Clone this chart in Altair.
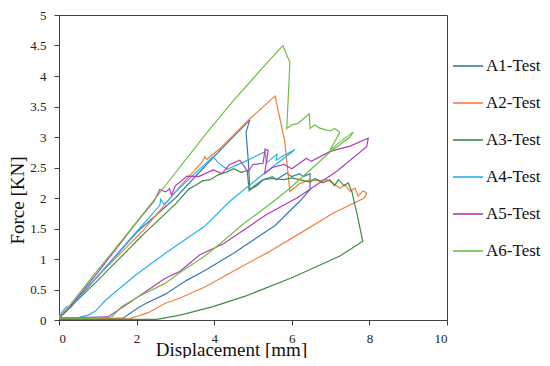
import altair as alt
import pandas as pd

series_names = ["A1-Test", "A2-Test", "A3-Test", "A4-Test", "A5-Test", "A6-Test"]
series_colors = ["#3a7ab0", "#f0803c", "#3f8c42", "#2bb2e8", "#b43cb4", "#6fbf46"]

x_ticks = [0, 2, 4, 6, 8, 10]
y_ticks = [0, 0.5, 1, 1.5, 2, 2.5, 3, 3.5, 4, 4.5, 5]

A1_x = [0, 0.15, 1.0, 2.04, 3.0, 3.76, 4.3, 4.92, 4.82, 4.88, 4.92, 5.1, 5.26, 5.5, 5.6, 5.87, 6.0, 6.2, 6.3, 6.47,
        6.47, 6.21, 5.57, 4.49, 3.76, 3.29, 2.73, 2.26, 2.04, 1.65, 1.0, 0]
A1_y = [0.03, 0.12, 0.72, 1.46, 2.0, 2.52, 2.88, 3.28, 3.08, 2.6, 2.14, 2.2, 2.3, 2.35, 2.3, 2.41, 2.35, 2.4, 2.35, 2.4,
        2.14, 1.95, 1.55, 1.09, 0.81, 0.65, 0.42, 0.28, 0.2, 0.03, 0.02, 0.02]

A2_x = [0, 0.2, 1.0, 2.16, 3.16, 3.7, 3.76, 3.8, 4.15, 4.92, 5.57, 5.82, 5.95, 6.1, 6.21, 6.47, 6.7, 6.9, 7.07, 7.24,
        7.37, 7.5, 7.63, 7.71, 7.84, 7.93, 7.87, 7.06, 6.21, 5.36, 4.49, 3.76, 3.12, 2.73, 2.3, 1.96, 1.8, 0]
A2_y = [0.03, 0.15, 0.72, 1.46, 2.22, 2.6, 2.68, 2.63, 2.81, 3.3, 3.67, 2.92, 2.11, 2.18, 2.24, 2.3, 2.28, 2.3, 2.24, 2.16,
        2.22, 2.11, 2.16, 2.03, 2.12, 2.08, 2.0, 1.75, 1.42, 1.1, 0.8, 0.54, 0.36, 0.27, 0.12, 0.05, 0.02, 0.02]

A3_x = [0, 1.0, 2.2, 3.0, 3.35, 3.5, 3.7, 3.9, 4.1, 4.3, 4.5, 4.7, 4.85, 4.9, 5.0, 5.26, 5.5, 5.8, 6.0, 6.2,
        6.47, 6.6, 6.8, 6.98, 7.1, 7.2, 7.35, 7.45, 7.55, 7.68, 7.83, 7.24, 6.03, 4.84, 3.97, 3.12, 2.52, 0]
A3_y = [0.03, 0.65, 1.42, 1.9, 2.15, 2.2, 2.28, 2.3, 2.38, 2.42, 2.48, 2.42, 2.45, 2.12, 2.18, 2.3, 2.32, 2.3, 2.33, 2.3,
        2.26, 2.32, 2.25, 2.3, 2.2, 2.3, 2.2, 2.25, 2.1, 1.74, 1.29, 1.05, 0.7, 0.4, 0.22, 0.08, 0.01, 0.01]

A4_x = [0, 0.1, 0.2, 0.3, 0.5, 1.0, 2.0, 2.6, 2.62, 2.7, 2.8, 3.0, 3.5, 3.97, 4.1, 4.33, 4.8, 5.31, 5.35, 5.62,
        5.6, 5.8, 6.08, 5.26, 4.41, 3.76, 2.73, 1.96, 1.19, 0.95, 0.75, 0.5, 0]
A4_y = [0.05, 0.15, 0.22, 0.2, 0.35, 0.72, 1.45, 1.88, 1.98, 1.9, 1.95, 2.1, 2.4, 2.68, 2.58, 2.47, 2.6, 2.76, 2.58, 2.72,
        2.62, 2.7, 2.79, 2.39, 1.95, 1.54, 1.09, 0.73, 0.32, 0.15, 0.08, 0.04, 0.04]

A5_x = [0, 0.2, 1.0, 2.0, 2.45, 2.6, 2.75, 2.85, 2.9, 3.0, 3.3, 3.6, 3.97, 4.2, 4.4, 4.66, 4.87, 5.0, 5.26, 5.31,
        5.39, 5.3, 5.5, 5.8, 6.0, 6.38, 6.5, 6.98, 7.2, 7.5, 7.97, 7.93, 7.16, 6.98, 6.13, 5.35, 4.24, 3.63, 3.12, 2.73,
        2.22, 1.8, 1.26, 0]
A5_y = [0.05, 0.15, 0.78, 1.6, 1.95, 2.14, 2.1, 2.15, 2.05, 2.2, 2.36, 2.35, 2.46, 2.4, 2.55, 2.62, 2.43, 2.55, 2.57, 2.8,
        2.78, 2.4, 2.5, 2.55, 2.48, 2.65, 2.6, 2.76, 2.8, 2.85, 2.98, 2.84, 2.44, 2.36, 2.0, 1.73, 1.25, 1.07, 0.8, 0.68,
        0.46, 0.28, 0.05, 0.03]

A6_x = [0, 0.2, 1.0, 1.87, 2.8, 3.76, 4.5, 5.2, 5.77, 5.95, 5.92, 5.87, 6.0, 6.15, 6.3, 6.45, 6.47, 6.6, 6.7, 6.85,
        7.0, 7.1, 7.24, 6.98, 7.2, 7.58, 7.5, 6.98, 5.95, 5.5, 4.74, 4.15, 3.76, 3.12, 2.73, 2.04, 1.62, 1.36, 1.0, 0]
A6_y = [0.05, 0.18, 0.82, 1.5, 2.25, 3.03, 3.6, 4.1, 4.5, 4.22, 3.8, 3.14, 3.2, 3.22, 3.3, 3.38, 3.14, 3.2, 3.15, 3.12,
        3.1, 3.14, 3.08, 2.78, 2.9, 3.08, 3.0, 2.75, 2.16, 1.93, 1.57, 1.25, 1.05, 0.78, 0.6, 0.38, 0.22, 0.05, 0.03, 0.03]

rows = []
for name, xs, ys in zip(series_names,
                        [A1_x, A2_x, A3_x, A4_x, A5_x, A6_x],
                        [A1_y, A2_y, A3_y, A4_y, A5_y, A6_y]):
    for i, (xv, yv) in enumerate(zip(xs, ys)):
        rows.append({"series": name, "x": xv, "y": yv, "idx": i})
df = pd.DataFrame(rows)

FONT = "Liberation Serif"
AX = "#404040"

chart = alt.Chart(df).mark_line(strokeWidth=1.2, clip=True).encode(
    x=alt.X("x:Q", scale=alt.Scale(domain=[0, 10], nice=False),
            axis=alt.Axis(values=x_ticks, title="Displacement [mm]", grid=False,
                          labelFont=FONT, labelFontSize=13, labelColor="#222",
                          titleFont=FONT, titleFontSize=19, titleFontWeight="normal", titleColor="#111",
                          titleX=172, titleY=35, titleBaseline="alphabetic",
                          tickSize=5, tickColor=AX, domainColor=AX, labelPadding=7)),
    y=alt.Y("y:Q", scale=alt.Scale(domain=[0, 5], nice=False),
            axis=alt.Axis(values=y_ticks, title="Force [KN]", grid=False,
                          labelExpr="'' + datum.value",
                          labelFont=FONT, labelFontSize=13, labelColor="#222",
                          titleFont=FONT, titleFontSize=19, titleFontWeight="normal", titleColor="#111",
                          titleX=-36, titleY=185, titleBaseline="alphabetic",
                          tickSize=5, tickColor=AX, domainColor=AX, labelPadding=8)),
    color=alt.Color("series:N", scale=alt.Scale(domain=series_names, range=series_colors),
                    legend=alt.Legend(title=None, orient="none", legendX=393, legendY=35,
                                      symbolType="stroke", symbolSize=900, symbolStrokeWidth=1.6,
                                      labelFont=FONT, labelFontSize=17, labelColor="#111",
                                      labelOffset=2, rowPadding=13, padding=0)),
    order="idx:Q",
).properties(
    width=388, height=305,
    padding={"left": 51, "top": 7, "right": 95, "bottom": 38},
    autosize=alt.AutoSizeParams(type="none"),
).configure_view(stroke=AX, strokeWidth=1)

chart.save("out.html", embed_options={"renderer": "svg", "actions": False})
